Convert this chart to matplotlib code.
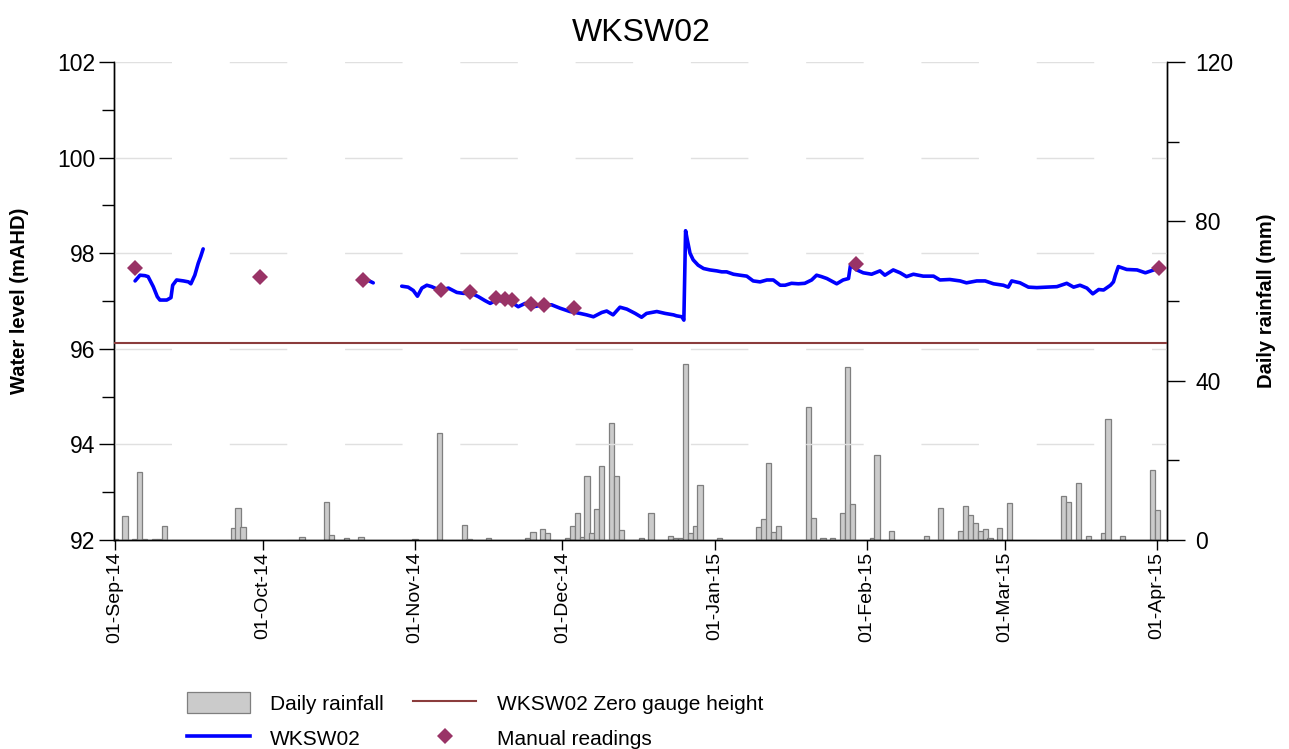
import datetime as dt

import numpy as np
import matplotlib
matplotlib.use("Agg")
import matplotlib.pyplot as plt
import matplotlib.dates as mdates
from matplotlib.patches import Patch
from matplotlib.lines import Line2D
from matplotlib.ticker import MultipleLocator

plt.rcParams["font.family"] = ["Liberation Sans", "DejaVu Sans"]

START = dt.datetime(2014, 9, 1)
END = dt.datetime(2015, 4, 1)

# Daily rainfall (mm); days counted from 01-Sep-14
rain_days = [0, 2, 4, 5, 6, 8, 9, 10, 24, 25, 26, 38, 43, 44, 47, 50,
             61, 66, 71, 72, 76, 84, 85, 87, 88, 92, 93, 94, 95, 96, 97, 98,
             99, 101, 102, 103, 107, 109, 113, 114, 115, 116, 117, 118, 119,
             123, 131, 132, 133, 134, 135, 141, 142, 144, 146, 148, 149, 150,
             154, 155, 158, 165, 168, 172, 173, 174, 175, 176, 177, 178, 180,
             182, 193, 194, 196, 198, 201, 202, 205, 211, 212]
rain_mm = [0.3, 5.9, 0.3, 17.1, 0.3, 0.3, 0.3, 3.5, 2.9, 8.0, 3.2, 0.8, 9.5,
           1.2, 0.5, 0.8,
           0.3, 26.8, 3.7, 0.3, 0.5, 0.6, 2.0, 2.7, 1.8, 0.6, 3.5, 6.7, 0.8,
           16.0, 1.7, 7.8,
           18.7, 29.3, 16.1, 2.4, 0.4, 6.7, 1.0, 0.4, 0.4, 44.1, 1.8, 3.5, 13.9,
           0.6, 3.2, 5.2, 19.3, 2.0, 3.4, 33.3, 5.5, 0.4, 0.4, 6.7, 43.4, 9.0,
           0.6, 21.3, 2.2, 0.9, 8.1, 2.2, 8.6, 6.4, 4.3, 2.2, 2.7, 0.5, 2.9,
           9.2, 11.0, 9.5, 14.2, 1.0, 1.8, 30.5, 0.9, 17.6, 7.5]

# Logged water level (mAHD), three recording runs
run1_days = [4.05, 5.05, 6.07, 6.7, 7.75, 8.57, 9.1, 10.5, 11.35, 11.7, 12.5,
             13.9, 14.9, 15.4, 16.2, 16.9, 17.4, 17.9]
run1_level = [97.42, 97.54, 97.53, 97.51, 97.30, 97.09, 97.02, 97.02, 97.07,
              97.33, 97.44, 97.42, 97.40, 97.36, 97.54, 97.79, 97.93, 98.09]

run2_days = [50.5, 51.5, 52.5]
run2_level = [97.44, 97.43, 97.38]

run3_days = [58.3, 59.6, 60.65, 61.5, 62.4, 63.4, 64.4, 66.1, 67.8, 69.5, 70.8,
             72.5, 73.9, 75.2, 76.3, 77.6, 79.3, 81.0, 82.0, 83.4, 85.1, 87.1,
             88.8, 90.5, 92.5, 94.6, 95.9, 97.3, 99.0, 100.0, 101.3, 102.7,
             104.1, 105.8, 107.1, 108.1, 110.2, 111.9, 113.6, 114.2, 115.3,
             115.7, 116.05, 116.4, 116.95, 117.6, 118.6, 119.7, 121.0, 122.4,
             123.4, 124.4, 125.8, 127.1, 128.5, 129.8, 131.2, 132.6, 133.9,
             135.3, 136.3, 137.6, 139.0, 140.3, 141.7, 142.7, 143.7, 144.8,
             146.8, 148.1, 149.2, 149.6, 150.9, 152.2, 153.9, 155.6, 156.6,
             158.3, 159.7, 161.0, 162.4, 164.4, 166.5, 167.8, 169.8, 171.9,
             173.2, 175.3, 177.0, 178.7, 180.7, 181.7, 182.4, 184.1, 185.8,
             187.5, 189.5, 191.6, 193.6, 195.0, 196.3, 197.7, 198.9, 200.1,
             201.1, 202.5, 203.1, 203.5, 204.1, 205.8, 207.9, 209.6, 211.3,
             212.3]
run3_level = [97.31, 97.29, 97.22, 97.10, 97.27, 97.33, 97.30, 97.22, 97.27,
              97.18, 97.16, 97.16, 97.09, 97.01, 96.95, 97.02, 96.99, 96.95,
              96.88, 96.95, 96.88, 96.92, 96.92, 96.85, 96.78, 96.74, 96.71,
              96.67, 96.76, 96.79, 96.71, 96.87, 96.83, 96.74, 96.66, 96.74,
              96.78, 96.74, 96.71, 96.69, 96.67, 96.60, 98.47, 98.28, 98.00,
              97.86, 97.75, 97.68, 97.65, 97.63, 97.61, 97.61, 97.56, 97.54,
              97.52, 97.42, 97.40, 97.44, 97.44, 97.33, 97.33, 97.37, 97.36,
              97.37, 97.44, 97.54, 97.51, 97.47, 97.36, 97.44, 97.47, 97.75,
              97.65, 97.59, 97.56, 97.63, 97.54, 97.65, 97.59, 97.51, 97.56,
              97.52, 97.52, 97.44, 97.45, 97.42, 97.38, 97.42, 97.42, 97.36,
              97.33, 97.29, 97.42, 97.38, 97.29, 97.28, 97.29, 97.30, 97.37,
              97.29, 97.33, 97.27, 97.15, 97.24, 97.23, 97.33, 97.40, 97.54,
              97.72, 97.66, 97.65, 97.59, 97.65, 97.70]

# Manual gauge-board readings (mAHD)
manual_days = [4.05, 29.5, 50.5, 66.3, 72.2, 77.5, 79.3, 80.7, 84.5, 87.2,
               93.3, 150.7, 212.4]
manual_level = [97.70, 97.50, 97.43, 97.22, 97.18, 97.06, 97.04, 97.02, 96.93,
                96.92, 96.85, 97.77, 97.70]

zero_gauge = 96.12

BLUE = "#0000ff"
GAUGE = "#8b3c3c"
MANUAL = "#993366"
BAR_FACE = "#cbcbcb"
BAR_EDGE = "#7f7f7f"

base = mdates.date2num(START)


def to_x(days):
    return base + np.asarray(days, dtype=float)


fig = plt.figure(figsize=(12.89, 7.49), dpi=100)
ax = fig.add_axes([0.08867, 0.27904, 0.81692, 0.63818])
ax2 = ax.twinx()

# rainfall on the secondary axis, kept underneath the level series
ax2.bar(to_x(rain_days), rain_mm, width=1.05, align="center",
        color=BAR_FACE, edgecolor=BAR_EDGE, linewidth=0.9, zorder=2)
ax2.set_ylim(0, 120)
ax2.yaxis.set_major_locator(MultipleLocator(40))
ax2.yaxis.set_minor_locator(MultipleLocator(20))

ax.set_zorder(ax2.get_zorder() + 1)
ax.patch.set_visible(False)

for d, v in ((run1_days, run1_level), (run2_days, run2_level),
             (run3_days, run3_level)):
    ax.plot(to_x(d), v, color=BLUE, linewidth=2.6, solid_capstyle="round",
            solid_joinstyle="round", zorder=4)
ax.axhline(zero_gauge, color=GAUGE, linewidth=1.5, zorder=3)
ax.plot(to_x(manual_days), manual_level, linestyle="none", marker="D",
        markersize=8, color=MANUAL, markeredgewidth=0, zorder=5)

ax.set_ylim(92, 102)
ax.yaxis.set_major_locator(MultipleLocator(2))
ax.yaxis.set_minor_locator(MultipleLocator(1))
ax.grid(axis="y", which="major", color="#e0e0e0", linewidth=1.0,
        linestyle=(0, (41.4, 41.6)))
ax.set_axisbelow(True)

x0 = base - 0.18
x1 = mdates.date2num(END) + 2.06
ax.set_xlim(x0, x1)
ax.xaxis.set_major_locator(mdates.MonthLocator())
ax.xaxis.set_major_formatter(mdates.DateFormatter("%d-%b-%y"))
for lab in ax.get_xticklabels():
    lab.set_rotation(90)

ax.tick_params(axis="x", which="major", length=7.5, width=1, pad=1,
               labelsize=14, direction="out")
ax.tick_params(axis="y", which="major", length=10.5, width=1, pad=3,
               labelsize=16.5)
ax.tick_params(axis="y", which="minor", length=8.5, width=1)
ax2.tick_params(axis="y", which="major", length=13, width=1, pad=7,
                labelsize=16.5)
ax2.tick_params(axis="y", which="minor", length=8.5, width=1)

for a in (ax, ax2):
    a.spines["top"].set_visible(False)
    for s in ("left", "right", "bottom"):
        a.spines[s].set_linewidth(1.0)
        a.spines[s].set_color("black")

ax.set_title("WKSW02", fontsize=23, pad=15)
ax.set_ylabel("Water level (mAHD)", fontsize=14.5, fontweight="bold")
ax.yaxis.set_label_coords(-0.081, 0.5)
ax2.set_ylabel("Daily rainfall (mm)", fontsize=14.5, fontweight="bold")
ax2.yaxis.set_label_coords(1.0852, 0.5)

handles = [
    Patch(facecolor=BAR_FACE, edgecolor=BAR_EDGE, linewidth=0.9),
    Line2D([], [], color=BLUE, linewidth=2.6),
    Line2D([], [], color=GAUGE, linewidth=1.5),
    Line2D([], [], color=MANUAL, marker="D", markersize=8, linestyle="none",
           markeredgewidth=0),
]
labels = ["Daily rainfall", "WKSW02", "WKSW02 Zero gauge height",
          "Manual readings"]
fig.legend(handles, labels, ncol=2, loc="upper left",
           bbox_to_anchor=(187 / 1289, 1 - 692 / 749), frameon=False,
           fontsize=15, handlelength=3.0, handleheight=1.2,
           handletextpad=1.0, columnspacing=1.4, labelspacing=0.65,
           borderpad=0, borderaxespad=0)

fig.savefig("out.png", dpi=100)
